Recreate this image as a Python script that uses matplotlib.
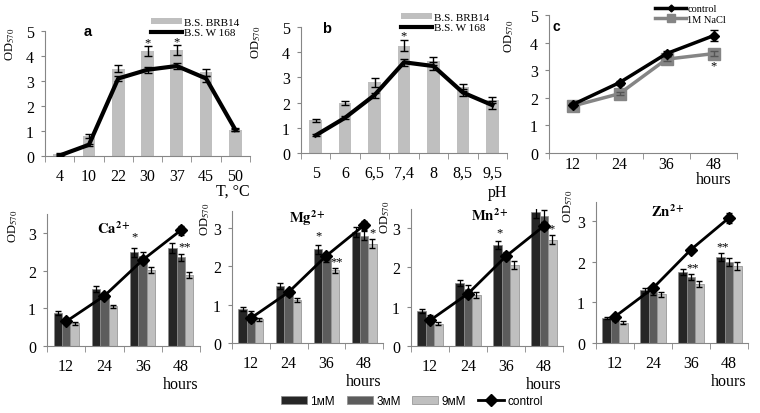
import matplotlib
matplotlib.use('Agg')
import matplotlib.pyplot as plt
import numpy as np

plt.rcParams['font.family'] = ['Liberation Serif', 'DejaVu Serif']
plt.rcParams['mathtext.fontset'] = 'stix'

# ---- panel a: temperature
temp_labels = ['4', '10', '22', '30', '37', '45', '50']
temp_brb14 = [0.1, 0.8, 3.5, 4.2, 4.25, 3.35, 1.05]
temp_brb14_err = [0.03, 0.08, 0.13, 0.2, 0.2, 0.15, 0.05]
temp_w168 = [0.02, 0.45, 3.1, 3.45, 3.6, 3.1, 1.05]
temp_w168_err = [0.02, 0.05, 0.1, 0.12, 0.12, 0.12, 0.06]
temp_stars = [(3, 4.55, '*'), (4, 4.6, '*')]

# ---- panel b: pH
ph_labels = ['5', '6', '6,5', '7,4', '8', '8,5', '9,5']
ph_brb14 = [1.3, 2.0, 2.8, 4.25, 3.65, 2.6, 2.1]
ph_brb14_err = [0.05, 0.08, 0.18, 0.22, 0.15, 0.12, 0.12]
ph_w168 = [0.7, 1.4, 2.3, 3.6, 3.45, 2.4, 1.9]
ph_w168_err = [0.04, 0.05, 0.1, 0.15, 0.15, 0.12, 0.15]
ph_stars = [(3, 4.68, '*')]

# ---- panel c: NaCl
hours = ['12', '24', '36', '48']
nacl_control = [1.75, 2.55, 3.6, 4.25]
nacl_control_err = [0.05, 0.07, 0.1, 0.2]
nacl_1m = [1.7, 2.15, 3.4, 3.6]
nacl_1m_err = [0.05, 0.05, 0.08, 0.08]
nacl_stars = [(3, 3.19, '*')]

# ---- metal ions (1mM, 3mM, 9mM, control)
ca_1 = [0.87, 1.5, 2.48, 2.6]
ca_3 = [0.68, 1.35, 2.38, 2.35]
ca_9 = [0.6, 1.05, 2.02, 1.88]
ca_ctrl = [0.65, 1.33, 2.28, 3.07]
ca_err = [[0.05, 0.08, 0.12, 0.13], [0.05, 0.06, 0.1, 0.1], [0.04, 0.05, 0.08, 0.08], [0.05, 0.06, 0.07, 0.12]]
ca_stars = [(1.78, 2.92, '*'), (3.1, 2.65, '**')]

mg_1 = [0.88, 1.48, 2.45, 2.9]
mg_3 = [0.75, 1.3, 2.2, 2.8]
mg_9 = [0.62, 1.12, 1.9, 2.6]
mg_ctrl = [0.65, 1.33, 2.28, 3.08]
mg_err = [[0.05, 0.08, 0.12, 0.12], [0.08, 0.07, 0.08, 0.12], [0.04, 0.06, 0.07, 0.13], [0.1, 0.06, 0.08, 0.12]]
mg_stars = [(1.78, 2.82, '*'), (2.28, 2.14, '**'), (3.23, 2.9, '*')]

mn_1 = [0.88, 1.6, 2.57, 3.4]
mn_3 = [0.72, 1.45, 2.3, 3.3]
mn_9 = [0.57, 1.3, 2.05, 2.7]
mn_ctrl = [0.65, 1.33, 2.28, 3.05]
mn_err = [[0.05, 0.08, 0.1, 0.15], [0.08, 0.1, 0.08, 0.15], [0.04, 0.07, 0.1, 0.12], [0.06, 0.06, 0.07, 0.1]]
mn_stars = [(1.82, 2.9, '*'), (3.2, 2.98, '*')]

zn_1 = [0.62, 1.3, 1.75, 2.12]
zn_3 = [0.58, 1.25, 1.62, 2.0]
zn_9 = [0.5, 1.2, 1.45, 1.9]
zn_ctrl = [0.65, 1.35, 2.3, 3.08]
zn_err = [[0.03, 0.06, 0.08, 0.1], [0.04, 0.07, 0.07, 0.1], [0.03, 0.06, 0.07, 0.1], [0.04, 0.05, 0.06, 0.13]]
zn_stars = [(2.05, 1.86, '**'), (2.84, 2.38, '**')]

AX = '#868686'
C1, C3, C9 = '#262626', '#5c5c5c', '#bfbfbf'
W, H = 760, 414

fig = plt.figure(figsize=(W / 100, H / 100), dpi=100)


def px_axes(l, r, top, bottom):
    return fig.add_axes([l / W, 1 - bottom / H, (r - l) / W, (bottom - top) / H])


def style(ax, ncat, labels, yticks, xlim=None, xpad=8.5):
    for s in ['top', 'right']:
        ax.spines[s].set_visible(False)
    for s in ['left', 'bottom']:
        ax.spines[s].set_color(AX)
    ax.set_xlim(xlim if xlim else (-0.5, ncat - 0.5))
    ax.set_xticks(range(ncat))
    ax.set_xticklabels(labels)
    ax.set_xticks(np.arange(-0.5, ncat, 1.0), minor=True)
    ax.tick_params(axis='x', which='major', length=0, pad=xpad, labelsize=11.5)
    ax.tick_params(axis='x', which='minor', length=4, color=AX)
    ax.set_yticks(yticks)
    ax.tick_params(axis='y', length=3, color=AX, pad=5, labelsize=11.5)


def ylab(ax, x, y):
    ax.text(x, y, 'OD$_{570}$', rotation=90, ha='center', va='top',
            fontsize=9, transform=ax.transAxes)


def bar_line_panel(ax, labels, bars, bars_err, line, line_err, stars, letter, lx, ly, xlabel, xl_off, leg_xy):
    x = np.arange(len(labels))
    b = ax.bar(x, bars, width=0.43, color=C9, zorder=1)
    ax.errorbar(x, bars, yerr=bars_err, fmt='none', ecolor='black', elinewidth=1, capsize=3, zorder=3)
    ln, = ax.plot(x, line, color='black', lw=3, zorder=4)
    ax.errorbar(x, line, yerr=line_err, fmt='none', ecolor='black', elinewidth=1, capsize=3, zorder=5)
    for sx, sy, st in stars:
        ax.text(sx, sy, st, ha='center', va='center', fontsize=9)
    ax.set_ylim(0, 5)
    style(ax, len(labels), labels, range(6))
    ax.text(lx, ly, letter, transform=ax.transAxes, fontsize=10.5, fontweight='bold',
            family='Liberation Sans', ha='center', va='top')
    ax.text(1.0, xl_off, xlabel, transform=ax.transAxes, ha='right', va='center', fontsize=11.5)
    ax.legend([b, ln], ['B.S. BRB14', 'B.S. W 168'], loc='upper left',
              bbox_to_anchor=(leg_xy[0] / W, 1 - leg_xy[1] / H),
              bbox_transform=fig.transFigure, frameon=False, fontsize=8,
              handlelength=2.8, handleheight=0.5, handletextpad=0.2, labelspacing=0.1,
              borderpad=0, borderaxespad=0)


ax_a = px_axes(45, 250, 32, 157)
bar_line_panel(ax_a, temp_labels, temp_brb14, temp_brb14_err, temp_w168, temp_w168_err,
               temp_stars, 'a', 0.21, 1.06, 'T, °C', -0.28, (151, 19))
ylab(ax_a, -0.17, 1.03)

ax_b = px_axes(301, 507, 28, 154)
bar_line_panel(ax_b, ph_labels, ph_brb14, ph_brb14_err, ph_w168, ph_w168_err,
               ph_stars, 'b', 0.126, 1.05, 'pH', -0.31, (401, 14))
ylab(ax_b, -0.22, 1.02)

# panel c
ax_c = px_axes(549, 737, 16, 154)
xc = np.arange(len(hours))
ax_c.plot(xc, nacl_control, color='black', lw=2.5, marker='D', ms=5, zorder=4, label='control')
ax_c.errorbar(xc, nacl_control, yerr=nacl_control_err, fmt='none', ecolor='black', elinewidth=1, capsize=3, zorder=5)
ax_c.plot(xc, nacl_1m, color='#858585', lw=2.5, marker='s', ms=9, zorder=3, label='1M NaCl')
ax_c.errorbar(xc, nacl_1m, yerr=nacl_1m_err, fmt='none', ecolor='#555555', elinewidth=1, capsize=3, zorder=3)
for sx, sy, st in nacl_stars:
    ax_c.text(sx, sy, st, ha='center', va='center', fontsize=9)
ax_c.set_ylim(0, 5)
style(ax_c, 4, hours, range(6), xlim=(-0.5, 3.18), xpad=2)
ax_c.text(0.04, 0.97, 'c', transform=ax_c.transAxes, fontsize=10, fontweight='bold',
          family='Liberation Sans', ha='center', va='top')
ax_c.annotate('hours', xy=(3, 0), xycoords=('data', 'axes fraction'), xytext=(0, -26),
              textcoords='offset pixels', ha='center', va='center', fontsize=11.5)
ax_c.legend(loc='upper left', bbox_to_anchor=(655 / W, 1 - 5 / H), bbox_transform=fig.transFigure,
            frameon=False, fontsize=7.5, handlelength=3.0, handletextpad=0.1, labelspacing=0.1,
            borderpad=0, borderaxespad=0, markerscale=0.7)
ylab(ax_c, -0.21, 0.97)

# metal ion panels
ions = [
    ('Ca', (47, 200, 215, 347), 3.5, ca_1, ca_3, ca_9, ca_ctrl, ca_err, ca_stars, (0.44, 0.96), (-0.22, 1.04)),
    ('Mg', (232, 383, 212, 344), 3.45, mg_1, mg_3, mg_9, mg_ctrl, mg_err, mg_stars, (0.50, 1.03), (-0.18, 1.07)),
    ('Mn', (411, 563, 210, 347), 3.48, mn_1, mn_3, mn_9, mn_ctrl, mn_err, mn_stars, (0.52, 1.02), (-0.17, 1.07)),
    ('Zn', (596, 748, 203, 344), 3.47, zn_1, zn_3, zn_9, zn_ctrl, zn_err, zn_stars, (0.47, 1.0), (-0.185, 1.09)),
]
bw = 0.22
for name, box, ymax, v1, v3, v9, vc, err, stars, tpos, lpos in ions:
    ax = px_axes(*box)
    x = np.arange(len(hours))
    for off, vals, col, e, lab in [(-bw, v1, C1, err[0], '1мМ'), (0, v3, C3, err[1], '3мМ'),
                                   (bw, v9, C9, err[2], '9мМ')]:
        ax.bar(x + off, vals, width=bw, color=col, edgecolor='#8c8c8c', lw=0.5, zorder=1, label=lab)
        ax.errorbar(x + off, vals, yerr=e, fmt='none', ecolor='black', elinewidth=0.9, capsize=2.5, zorder=3)
    ax.plot(x, vc, color='black', lw=2, marker='D', ms=6, zorder=4, label='control')
    ax.errorbar(x, vc, yerr=err[3], fmt='none', ecolor='black', elinewidth=0.9, capsize=2.5, zorder=5)
    for sx, sy, st in stars:
        ax.text(sx, sy, st, ha='center', va='center', fontsize=9)
    ax.set_ylim(0, ymax)
    style(ax, 4, hours, range(4))
    ax.text(tpos[0], tpos[1], r'$\mathbf{%s}^{\mathbf{2+}}$' % name, transform=ax.transAxes,
            ha='center', va='top', fontsize=10.5)
    ax.annotate('hours', xy=(3, 0), xycoords=('data', 'axes fraction'), xytext=(0, -38),
                textcoords='offset pixels', ha='center', va='center', fontsize=11.5)
    ylab(ax, lpos[0], lpos[1])
    if name == 'Ca':
        handles, labels = ax.get_legend_handles_labels()

order = [1, 2, 3, 0]
fig.legend([handles[i] for i in order], [labels[i] for i in order], loc='center',
           bbox_to_anchor=(412 / W, 1 - 402 / H), ncol=4, frameon=False,
           prop={'family': 'Liberation Sans', 'size': 8.5}, handlelength=2.2,
           handleheight=0.6, handletextpad=0.3, columnspacing=1.0, borderpad=0)

fig.savefig('out.png', dpi=100)
